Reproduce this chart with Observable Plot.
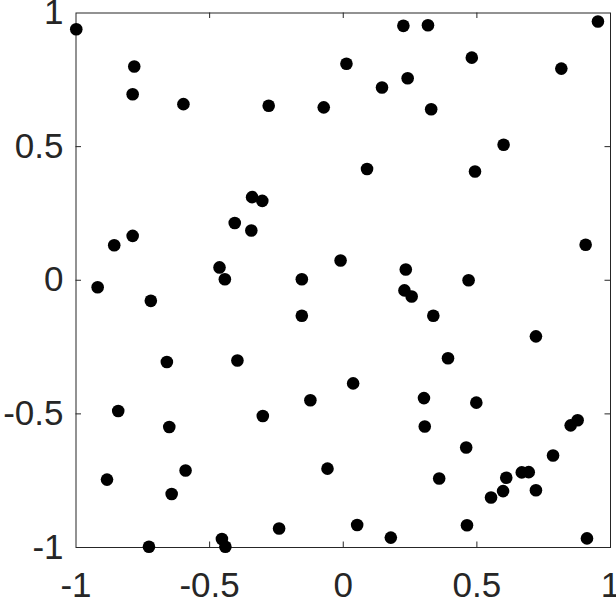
<!DOCTYPE html>
<html>
<head>
<meta charset="utf-8">
<script src="https://cdn.jsdelivr.net/npm/d3@7"></script>
<script src="https://cdn.jsdelivr.net/npm/@observablehq/plot@0.6"></script>
<style>
  html, body { margin: 0; padding: 0; background: #fff; }
  #chart svg { display: block; }
</style>
</head>
<body>
<div id="chart"></div>
<script>
const xs = [-0.999,-0.782,-0.788,-0.598,-0.279,-0.341,-0.303,-0.406,-0.344,-0.788,-0.857,-0.463,-0.443,-0.155,-0.919,-0.720,
  0.225,0.317,0.953,0.012,0.481,0.816,0.241,0.145,-0.073,0.329,0.600,0.089,0.493,0.907,-0.010,0.234,0.469,0.229,0.256,
  -0.155,-0.660,-0.396,-0.842,-0.651,-0.301,-0.123,-0.590,-0.884,-0.642,-0.240,-0.727,-0.454,-0.441,
  0.337,0.721,0.392,0.037,0.302,0.498,0.305,0.851,0.877,0.460,0.785,-0.059,0.359,0.610,0.668,0.694,0.598,0.721,0.553,0.052,0.463,0.178,0.912];
const ys = [0.939,0.800,0.696,0.659,0.653,0.311,0.297,0.214,0.186,0.166,0.131,0.048,0.004,0.004,-0.026,-0.077,
  0.952,0.954,0.968,0.810,0.833,0.792,0.756,0.721,0.647,0.640,0.507,0.416,0.407,0.133,0.074,0.040,0.000,-0.038,-0.061,
  -0.133,-0.306,-0.300,-0.489,-0.549,-0.508,-0.449,-0.712,-0.746,-0.800,-0.929,-0.997,-0.968,-0.997,
  -0.133,-0.210,-0.292,-0.386,-0.441,-0.458,-0.547,-0.543,-0.524,-0.626,-0.656,-0.705,-0.742,-0.739,-0.719,-0.718,-0.789,-0.786,-0.813,-0.916,-0.917,-0.963,-0.966];
const tickValues = [-1, -0.5, 0, 0.5, 1];
const innerTicks = [-0.5, 0, 0.5];

const points = xs.map((x, i) => ({x, y: ys[i]}));

const W = 616, H = 598;
const mL = 75.5, mR = 6, mT = 12.5, mB = 51;
const plotH = H - mT - mB, plotW = W - mL - mR;
const tickLen = 5.5;
const ink = "#262626";

const chart = Plot.plot({
  width: W,
  height: H,
  marginLeft: mL,
  marginRight: mR,
  marginTop: mT,
  marginBottom: mB,
  style: {fontFamily: "'Liberation Sans', Arial, Helvetica, sans-serif", fontSize: "35px", background: "#fff", color: ink},
  x: {domain: [-1, 1], nice: false},
  y: {domain: [-1, 1], nice: false},
  marks: [
    Plot.frame({stroke: ink, strokeWidth: 1}),
    Plot.tickX(innerTicks, {x: d => d, stroke: ink, insetBottom: plotH - tickLen}),
    Plot.tickX(innerTicks, {x: d => d, stroke: ink, insetTop: plotH - tickLen}),
    Plot.tickY(innerTicks, {y: d => d, stroke: ink, insetRight: plotW - tickLen}),
    Plot.tickY(innerTicks, {y: d => d, stroke: ink, insetLeft: plotW - tickLen}),
    Plot.axisX({ticks: tickValues, tickSize: 0, tickPadding: 25, tickFormat: d => String(d), fontSize: 35, fill: ink, label: null}),
    Plot.axisY({ticks: tickValues, tickSize: 0, tickPadding: 12.5, tickFormat: d => String(d), fontSize: 35, fill: ink, label: null}),
    Plot.dot(points, {x: "x", y: "y", r: 6.3, fill: "#000", stroke: "none"})
  ]
});
document.getElementById("chart").append(chart);
</script>
</body>
</html>
